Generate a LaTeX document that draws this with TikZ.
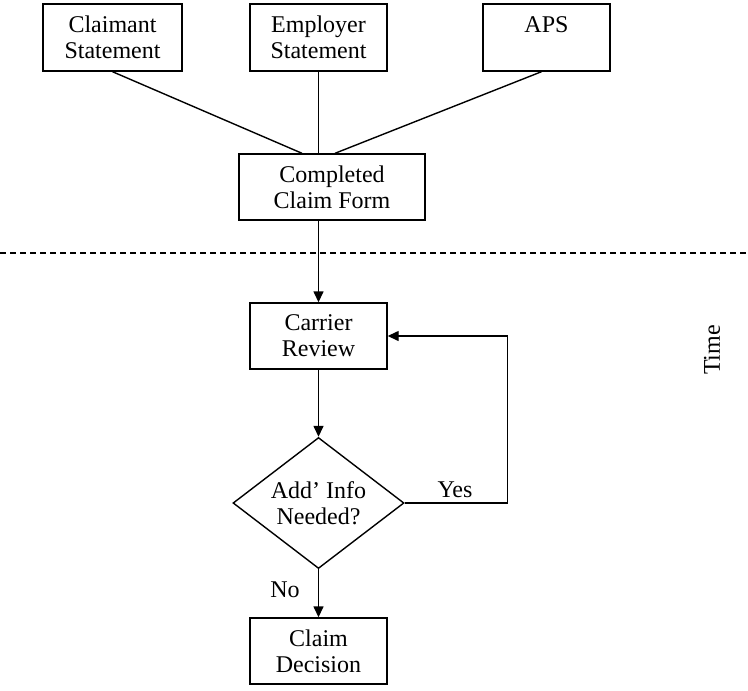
\documentclass[tikz,border=0pt]{standalone}
\usepackage{fontspec}
\setmainfont{Liberation Serif}
\usetikzlibrary{positioning,arrows.meta,shapes.geometric}

\begin{document}
\begin{tikzpicture}[x=0.5pt,y=-0.5pt,line width=0.7pt,
    box/.style={draw, align=center, inner sep=0pt, font=\fontsize{12}{13}\selectfont},
    decide/.style={draw, diamond, aspect=1.3, inner sep=0pt, minimum width=85.5pt, minimum height=65.5pt, align=center, font=\fontsize{12}{13}\selectfont},
    flow/.style={-{Triangle[length=5.5pt,width=5pt]}},
    lbl/.style={font=\fontsize{12}{13}\selectfont}]
    \useasboundingbox (0,0) rectangle (748,690);

    \node[box, minimum width=69.5pt, minimum height=33.5pt] (claimant) at (112.5,37.5) {Claimant\\Statement};
    \node[box, minimum width=68.5pt, minimum height=33.5pt] (employer) at (318.5,37.5) {Employer\\Statement};
    \node[box, minimum width=63.5pt, minimum height=33.5pt] (aps) at (546.5,37.5) {APS\\\mbox{}};
    \node[box, minimum width=93pt, minimum height=33pt] (completed) at (332,187) {Completed\\Claim Form};

    \coordinate (cfL) at ([xshift=-15pt]completed.north);
    \coordinate (cfR) at ([xshift=1.5pt]completed.north);
    \draw (claimant.south) -- (cfL);
    \draw (employer.south) -- (employer.south |- completed.north);
    \draw ([xshift=-2.5pt]aps.south) -- (cfR);

    \draw[dash pattern=on 3pt off 2pt] (0,253) -- (748,253);

    \node[box, minimum width=68.5pt, minimum height=33pt] (carrier) at (318.5,336) {Carrier\\Review};
    \node[decide] (needed) at (318.5,503) {Add’ Info\\Needed?};
    \node[box, minimum width=68.5pt, minimum height=33pt] (decision) at (318.5,651) {Claim\\Decision};

    \draw[flow] (completed.south -| carrier.north) -- (carrier.north);
    \draw[flow] (carrier.south) -- (needed.north);
    \draw[flow] (needed.east) -- ++(51.5pt,0) |- (carrier.east);
    \draw[flow] (needed.south) -- (decision.north);

    \node[lbl] (yes) at (455,490) {Yes};
    \node[lbl] (no) at (285,590) {No};
    \node[lbl, rotate=90] (time) at (712,350) {Time};
\end{tikzpicture}
\end{document}
